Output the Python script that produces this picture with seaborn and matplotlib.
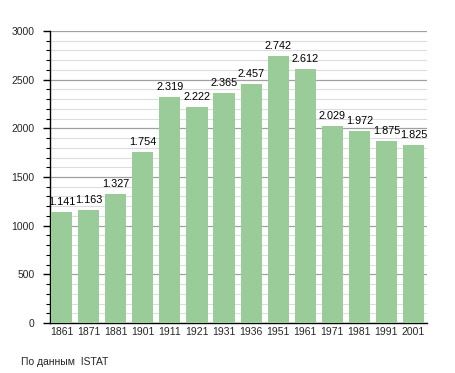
import matplotlib
matplotlib.use("Agg")
import matplotlib.pyplot as plt
import seaborn as sns
import pandas as pd
from matplotlib.ticker import MultipleLocator

years = ["1861", "1871", "1881", "1901", "1911", "1921", "1931", "1936",
         "1951", "1961", "1971", "1981", "1991", "2001"]
population = [1141, 1163, 1327, 1754, 2319, 2222, 2365, 2457,
              2742, 2612, 2029, 1972, 1875, 1825]
labels = ["1.141", "1.163", "1.327", "1.754", "2.319", "2.222", "2.365", "2.457",
          "2.742", "2.612", "2.029", "1.972", "1.875", "1.825"]

df = pd.DataFrame({"year": years, "pop": population})

sns.set_style("white")
plt.rcParams['font.family'] = ['Liberation Sans', 'DejaVu Sans']

fig = plt.figure(figsize=(4.55, 3.73), dpi=100)
ax = fig.add_axes([50/455, 50/373, 377/455, 292/373])

sns.barplot(data=df, x="year", y="pop", color="#99cc99", saturation=1,
            width=0.78, ax=ax, zorder=3, linewidth=0, edgecolor="none")

for i, (v, lab) in enumerate(zip(population, labels)):
    ax.text(i, v + 50, lab, ha="center", va="bottom", fontsize=7.8, color="black", zorder=4)

ax.set_ylim(0, 3000)
ax.set_xlim(-0.43, 13.5)
ax.yaxis.set_major_locator(MultipleLocator(500))
ax.yaxis.set_minor_locator(MultipleLocator(100))
ax.grid(which="major", axis="y", color="#a0a0a0", linewidth=0.9, zorder=0)
ax.grid(which="minor", axis="y", color="#dddddd", linewidth=0.8, zorder=0)
ax.set_axisbelow(True)

for s in ["top", "right"]:
    ax.spines[s].set_visible(False)
for s in ["left", "bottom"]:
    ax.spines[s].set_color("black")
    ax.spines[s].set_linewidth(1)

ax.tick_params(axis="y", which="major", length=5, width=1, color="black", labelsize=7.5, left=True, pad=6)
ax.tick_params(axis="y", which="minor", length=3, width=0.8, color="black", left=True)
ax.tick_params(axis="x", length=0, labelsize=7.5, pad=3)
ax.set_xlabel("")
ax.set_ylabel("")

fig.text(21/455, 1 - 362/373, "По данным  ISTAT", fontsize=7.5, ha="left", va="center")

fig.savefig("out.png", dpi=100)
